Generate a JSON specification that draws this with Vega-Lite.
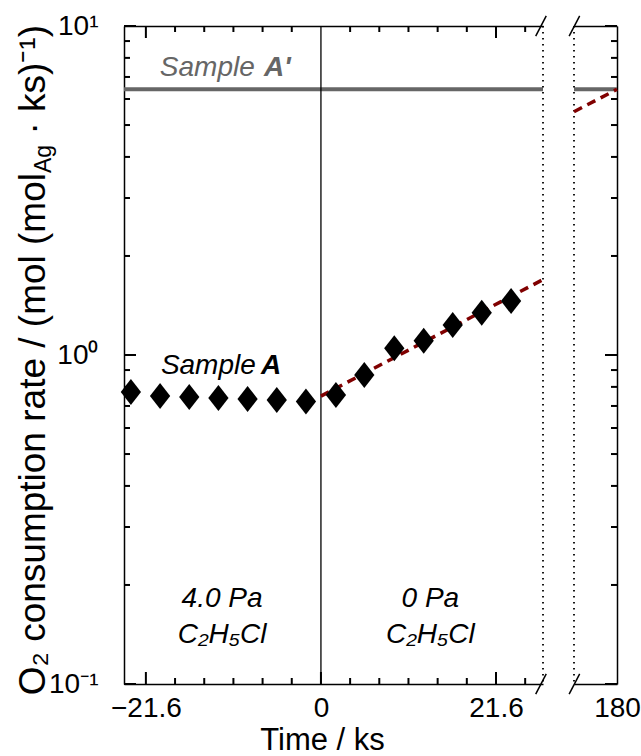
{
  "$schema": "https://vega.github.io/schema/vega-lite/v6.json",
  "padding": {"left": 14, "top": 12, "right": 5, "bottom": 5},
  "bounds": "flush",
  "spacing": 31,
  "config": {
    "font": "Liberation Sans",
    "view": {"stroke": null},
    "axis": {
      "grid": false,
      "domainColor": "black",
      "domainWidth": 1.5,
      "labelFont": "Liberation Sans",
      "labelFontSize": 28,
      "labelColor": "black",
      "titleFont": "Liberation Sans",
      "titleFontSize": 31,
      "titleFontWeight": "normal",
      "titleColor": "black"
    }
  },
  "hconcat": [
    {
      "width": 419,
      "height": 658,
      "resolve": {"axis": {"x": "independent", "y": "independent"}},
      "layer": [
        {
          "data": {"values": [{"rate": 6.42}]},
          "mark": {"type": "rule", "color": "#666666", "strokeWidth": 4},
          "encoding": {
            "y": {"field": "rate", "type": "quantitative", "scale": {"type": "log", "domain": [0.1, 10], "nice": false}, "axis": null}
          }
        },
        {
          "data": {"values": [{"t": 0}]},
          "mark": {"type": "rule", "color": "black", "strokeWidth": 1.3},
          "encoding": {
            "x": {"field": "t", "type": "quantitative", "scale": {"domain": [-24.3, 27.4], "nice": false, "zero": false}, "axis": null}
          }
        },
        {
          "data": {"values": [{"t": 27.4}]},
          "mark": {"type": "rule", "color": "black", "strokeWidth": 1.8, "strokeDash": [1.5, 4.5]},
          "encoding": {
            "x": {"field": "t", "type": "quantitative", "scale": {"domain": [-24.3, 27.4], "nice": false, "zero": false}, "axis": null}
          }
        },
        {
          "data": {"values": [{"t": 0, "rate": 0.75}, {"t": 27.4, "rate": 1.695}]},
          "mark": {"type": "line", "color": "#800000", "strokeWidth": 3.5, "strokeDash": [9, 6]},
          "encoding": {
            "x": {"field": "t", "type": "quantitative", "scale": {"domain": [-24.3, 27.4], "nice": false, "zero": false}, "axis": null},
            "y": {"field": "rate", "type": "quantitative", "scale": {"type": "log", "domain": [0.1, 10], "nice": false}, "axis": null}
          }
        },
        {
          "data": {"values": [{"t": 26.5, "t2": 27.8, "r": 0.0932, "r2": 0.1073}, {"t": 26.5, "t2": 27.8, "r": 9.32, "r2": 10.73}]},
          "mark": {"type": "rule", "color": "black", "strokeWidth": 1.5, "clip": false},
          "encoding": {
            "x": {"field": "t", "type": "quantitative", "scale": {"domain": [-24.3, 27.4], "nice": false, "zero": false},
              "axis": {"orient": "top", "ticks": false, "labels": false, "domain": true, "title": null}},
            "x2": {"field": "t2"},
            "y": {"field": "r", "type": "quantitative", "scale": {"type": "log", "domain": [0.1, 10], "nice": false}, "axis": null},
            "y2": {"field": "r2"}
          }
        },
        {
          "data": {"values": [
            {"t": -23.45, "rate": 0.772}, {"t": -19.85, "rate": 0.75}, {"t": -16.25, "rate": 0.745}, {"t": -12.65, "rate": 0.74},
            {"t": -9.05, "rate": 0.735}, {"t": -5.45, "rate": 0.73}, {"t": -1.85, "rate": 0.722},
            {"t": 1.85, "rate": 0.756}, {"t": 5.35, "rate": 0.869}, {"t": 9.05, "rate": 1.048}, {"t": 12.68, "rate": 1.105},
            {"t": 16.26, "rate": 1.234}, {"t": 19.84, "rate": 1.345}, {"t": 23.46, "rate": 1.459}
          ]},
          "mark": {"type": "point", "shape": "M0,-1L0.78,0L0,1L-0.78,0Z", "filled": true, "color": "black", "opacity": 1, "size": 676, "strokeWidth": 0},
          "encoding": {
            "x": {"field": "t", "type": "quantitative", "scale": {"domain": [-24.3, 27.4], "nice": false, "zero": false},
              "axis": {"orient": "bottom", "values": [-21.6, 0, 21.6], "ticks": false, "labelFlush": false, "labelPadding": 10,
                "labelExpr": "datum.value == 0 ? '0' : (datum.value < 0 ? '−21.6' : '21.6')",
                "title": "Time / ks", "titleX": 198, "titlePadding": 3}},
            "y": {"field": "rate", "type": "quantitative", "scale": {"type": "log", "domain": [0.1, 10], "nice": false},
              "axis": {"orient": "left", "values": [0.1, 1, 10], "ticks": false, "labelPadding": 26, "labelAlign": "right", "labelBaseline": "middle",
                "labelExpr": "datum.value == 10 ? '10¹' : (datum.value == 1 ? '10⁰' : '10⁻¹')", "title": null}}
          }
        },
        {
          "data": {"values": [{"t": -19.88, "rate": 7.07, "label": "Sample"}]},
          "mark": {"type": "text", "align": "left", "baseline": "alphabetic", "fontSize": 28, "fontStyle": "italic", "color": "#666666"},
          "encoding": {
            "x": {"field": "t", "type": "quantitative", "scale": {"domain": [-24.3, 27.4], "nice": false, "zero": false}, "axis": null},
            "y": {"field": "rate", "type": "quantitative", "scale": {"type": "log", "domain": [0.1, 10], "nice": false}, "axis": null},
            "text": {"field": "label"}
          }
        },
        {
          "data": {"values": [{"t": -7.04, "rate": 7.07, "label": "A'"}]},
          "mark": {"type": "text", "align": "left", "baseline": "alphabetic", "fontSize": 28, "fontStyle": "italic", "fontWeight": "bold", "color": "#666666"},
          "encoding": {
            "x": {"field": "t", "type": "quantitative", "scale": {"domain": [-24.3, 27.4], "nice": false, "zero": false}, "axis": null},
            "y": {"field": "rate", "type": "quantitative", "scale": {"type": "log", "domain": [0.1, 10], "nice": false}, "axis": null},
            "text": {"field": "label"}
          }
        },
        {
          "data": {"values": [{"t": -19.75, "rate": 0.874, "label": "Sample"}]},
          "mark": {"type": "text", "align": "left", "baseline": "alphabetic", "fontSize": 28, "fontStyle": "italic", "color": "black"},
          "encoding": {
            "x": {"field": "t", "type": "quantitative", "scale": {"domain": [-24.3, 27.4], "nice": false, "zero": false}, "axis": null},
            "y": {"field": "rate", "type": "quantitative", "scale": {"type": "log", "domain": [0.1, 10], "nice": false}, "axis": null},
            "text": {"field": "label"}
          }
        },
        {
          "data": {"values": [{"t": -7.41, "rate": 0.874, "label": "A"}]},
          "mark": {"type": "text", "align": "left", "baseline": "alphabetic", "fontSize": 28, "fontStyle": "italic", "fontWeight": "bold", "color": "black"},
          "encoding": {
            "x": {"field": "t", "type": "quantitative", "scale": {"domain": [-24.3, 27.4], "nice": false, "zero": false}, "axis": null},
            "y": {"field": "rate", "type": "quantitative", "scale": {"type": "log", "domain": [0.1, 10], "nice": false}, "axis": null},
            "text": {"field": "label"}
          }
        },
        {
          "data": {"values": [
            {"t": -12.2, "rate": 0.171, "label": "4.0 Pa"}, {"t": -12.2, "rate": 0.1335, "label": "C₂H₅Cl"},
            {"t": 13.5, "rate": 0.171, "label": "0 Pa"}, {"t": 13.5, "rate": 0.1335, "label": "C₂H₅Cl"}
          ]},
          "mark": {"type": "text", "align": "center", "baseline": "alphabetic", "fontSize": 28, "fontStyle": "italic", "color": "black"},
          "encoding": {
            "x": {"field": "t", "type": "quantitative", "scale": {"domain": [-24.3, 27.4], "nice": false, "zero": false}, "axis": null},
            "y": {"field": "rate", "type": "quantitative", "scale": {"type": "log", "domain": [0.1, 10], "nice": false}, "axis": null},
            "text": {"field": "label"}
          }
        },
        {
          "data": {"values": [{"t": -34.07, "rate": 3.574, "label": "O₂ consumption rate / (mol (mol"}]},
          "mark": {"type": "text", "align": "right", "baseline": "alphabetic", "angle": 270, "fontSize": 37, "color": "black", "clip": false},
          "encoding": {
            "x": {"field": "t", "type": "quantitative", "scale": {"domain": [-24.3, 27.4], "nice": false, "zero": false}, "axis": null},
            "y": {"field": "rate", "type": "quantitative", "scale": {"type": "log", "domain": [0.1, 10], "nice": false}, "axis": null},
            "text": {"field": "label"}
          }
        },
        {
          "data": {"values": [{"t": -33.33, "rate": 3.574, "label": "Ag"}]},
          "mark": {"type": "text", "align": "left", "baseline": "alphabetic", "angle": 270, "fontSize": 23, "color": "black", "clip": false},
          "encoding": {
            "x": {"field": "t", "type": "quantitative", "scale": {"domain": [-24.3, 27.4], "nice": false, "zero": false}, "axis": null},
            "y": {"field": "rate", "type": "quantitative", "scale": {"type": "log", "domain": [0.1, 10], "nice": false}, "axis": null},
            "text": {"field": "label"}
          }
        },
        {
          "data": {"values": [{"t": -34.07, "rate": 4.677, "label": "· ks)⁻¹)"}]},
          "mark": {"type": "text", "align": "left", "baseline": "alphabetic", "angle": 270, "fontSize": 37, "color": "black", "clip": false},
          "encoding": {
            "x": {"field": "t", "type": "quantitative", "scale": {"domain": [-24.3, 27.4], "nice": false, "zero": false}, "axis": null},
            "y": {"field": "rate", "type": "quantitative", "scale": {"type": "log", "domain": [0.1, 10], "nice": false}, "axis": null},
            "text": {"field": "label"}
          }
        },
        {
          "data": {"values": [
            {"t": -21.6, "r": 0.1, "r2": 0.10876}, {"t": 0, "r": 0.1, "r2": 0.10876}, {"t": 21.6, "r": 0.1, "r2": 0.10876},
            {"t": -21.6, "r": 10, "r2": 9.1945}, {"t": 21.6, "r": 10, "r2": 9.1945},
            {"t": -18, "r": 0.1, "r2": 0.10429}, {"t": -14.4, "r": 0.1, "r2": 0.10429}, {"t": -10.8, "r": 0.1, "r2": 0.10429},
            {"t": -7.2, "r": 0.1, "r2": 0.10429}, {"t": -3.6, "r": 0.1, "r2": 0.10429}, {"t": 3.6, "r": 0.1, "r2": 0.10429},
            {"t": 7.2, "r": 0.1, "r2": 0.10429}, {"t": 10.8, "r": 0.1, "r2": 0.10429}, {"t": 14.4, "r": 0.1, "r2": 0.10429},
            {"t": 18, "r": 0.1, "r2": 0.10429}, {"t": 25.2, "r": 0.1, "r2": 0.10429},
            {"t": -18, "r": 10, "r2": 9.5888}, {"t": -14.4, "r": 10, "r2": 9.5888}, {"t": -10.8, "r": 10, "r2": 9.5888},
            {"t": -7.2, "r": 10, "r2": 9.5888}, {"t": -3.6, "r": 10, "r2": 9.5888}, {"t": 3.6, "r": 10, "r2": 9.5888},
            {"t": 7.2, "r": 10, "r2": 9.5888}, {"t": 10.8, "r": 10, "r2": 9.5888}, {"t": 14.4, "r": 10, "r2": 9.5888},
            {"t": 18, "r": 10, "r2": 9.5888}, {"t": 25.2, "r": 10, "r2": 9.5888}
          ]},
          "mark": {"type": "rule", "color": "#000000", "strokeWidth": 2, "clip": false},
          "encoding": {
            "x": {"field": "t", "type": "quantitative", "scale": {"domain": [-24.3, 27.4], "nice": false, "zero": false}, "axis": null},
            "y": {"field": "r", "type": "quantitative", "scale": {"type": "log", "domain": [0.1, 10], "nice": false}, "axis": null},
            "y2": {"field": "r2"}
          }
        },
        {
          "data": {"values": [
            {"r": 0.1, "t": -24.3, "t2": -22.819}, {"r": 1, "t": -24.3, "t2": -22.819}, {"r": 10, "t": -24.3, "t2": -22.819},
            {"r": 0.2, "t": -24.3, "t2": -23.56}, {"r": 0.3, "t": -24.3, "t2": -23.56}, {"r": 0.4, "t": -24.3, "t2": -23.56},
            {"r": 0.5, "t": -24.3, "t2": -23.56}, {"r": 0.6, "t": -24.3, "t2": -23.56}, {"r": 0.7, "t": -24.3, "t2": -23.56},
            {"r": 0.8, "t": -24.3, "t2": -23.56}, {"r": 0.9, "t": -24.3, "t2": -23.56}, {"r": 2, "t": -24.3, "t2": -23.56},
            {"r": 3, "t": -24.3, "t2": -23.56}, {"r": 4, "t": -24.3, "t2": -23.56}, {"r": 5, "t": -24.3, "t2": -23.56},
            {"r": 6, "t": -24.3, "t2": -23.56}, {"r": 7, "t": -24.3, "t2": -23.56}, {"r": 8, "t": -24.3, "t2": -23.56},
            {"r": 9, "t": -24.3, "t2": -23.56}
          ]},
          "mark": {"type": "rule", "color": "#000000", "strokeWidth": 2, "clip": false},
          "encoding": {
            "x": {"field": "t", "type": "quantitative", "scale": {"domain": [-24.3, 27.4], "nice": false, "zero": false}, "axis": null},
            "x2": {"field": "t2"},
            "y": {"field": "r", "type": "quantitative", "scale": {"type": "log", "domain": [0.1, 10], "nice": false}, "axis": null}
          }
        }
      ]
    },
    {
      "width": 43,
      "height": 658,
      "resolve": {"axis": {"x": "independent", "y": "independent"}},
      "layer": [
        {
          "data": {"values": [{"rate": 6.42}]},
          "mark": {"type": "rule", "color": "#666666", "strokeWidth": 4},
          "encoding": {
            "y": {"field": "rate", "type": "quantitative", "scale": {"type": "log", "domain": [0.1, 10], "nice": false},
              "axis": {"orient": "right", "ticks": false, "labels": false, "domain": true, "title": null}}
          }
        },
        {
          "data": {"values": [{"t": 174.7}]},
          "mark": {"type": "rule", "color": "black", "strokeWidth": 1.8, "strokeDash": [1.5, 4.5]},
          "encoding": {
            "x": {"field": "t", "type": "quantitative", "scale": {"domain": [174.7, 180], "nice": false, "zero": false},
              "axis": {"orient": "top", "ticks": false, "labels": false, "domain": true, "title": null}}
          }
        },
        {
          "data": {"values": [{"t": 174.7, "rate": 5.49}, {"t": 180, "rate": 6.42}]},
          "mark": {"type": "line", "color": "#800000", "strokeWidth": 3.5, "strokeDash": [9, 6]},
          "encoding": {
            "x": {"field": "t", "type": "quantitative", "scale": {"domain": [174.7, 180], "nice": false, "zero": false},
              "axis": {"orient": "bottom", "values": [180], "ticks": false, "labelFlush": false, "labelPadding": 10, "title": null}},
            "y": {"field": "rate", "type": "quantitative", "scale": {"type": "log", "domain": [0.1, 10], "nice": false}, "axis": null}
          }
        },
        {
          "data": {"values": [{"t": 174.1, "t2": 175.4, "r": 0.0932, "r2": 0.1073}, {"t": 174.1, "t2": 175.4, "r": 9.32, "r2": 10.73}]},
          "mark": {"type": "rule", "color": "black", "strokeWidth": 1.5, "clip": false},
          "encoding": {
            "x": {"field": "t", "type": "quantitative", "scale": {"domain": [174.7, 180], "nice": false, "zero": false}, "axis": null},
            "x2": {"field": "t2"},
            "y": {"field": "r", "type": "quantitative", "scale": {"type": "log", "domain": [0.1, 10], "nice": false}, "axis": null},
            "y2": {"field": "r2"}
          }
        },
        {
          "data": {"values": [
            {"r": 0.1, "t": 180, "t2": 178.52}, {"r": 1, "t": 180, "t2": 178.52}, {"r": 10, "t": 180, "t2": 178.52},
            {"r": 0.2, "t": 180, "t2": 179.26}, {"r": 0.3, "t": 180, "t2": 179.26}, {"r": 0.4, "t": 180, "t2": 179.26},
            {"r": 0.5, "t": 180, "t2": 179.26}, {"r": 0.6, "t": 180, "t2": 179.26}, {"r": 0.7, "t": 180, "t2": 179.26},
            {"r": 0.8, "t": 180, "t2": 179.26}, {"r": 0.9, "t": 180, "t2": 179.26}, {"r": 2, "t": 180, "t2": 179.26},
            {"r": 3, "t": 180, "t2": 179.26}, {"r": 4, "t": 180, "t2": 179.26}, {"r": 5, "t": 180, "t2": 179.26},
            {"r": 6, "t": 180, "t2": 179.26}, {"r": 7, "t": 180, "t2": 179.26}, {"r": 8, "t": 180, "t2": 179.26},
            {"r": 9, "t": 180, "t2": 179.26}
          ]},
          "mark": {"type": "rule", "color": "#000000", "strokeWidth": 2, "clip": false},
          "encoding": {
            "x": {"field": "t", "type": "quantitative", "scale": {"domain": [174.7, 180], "nice": false, "zero": false}, "axis": null},
            "x2": {"field": "t2"},
            "y": {"field": "r", "type": "quantitative", "scale": {"type": "log", "domain": [0.1, 10], "nice": false}, "axis": null}
          }
        }
      ]
    }
  ]
}
